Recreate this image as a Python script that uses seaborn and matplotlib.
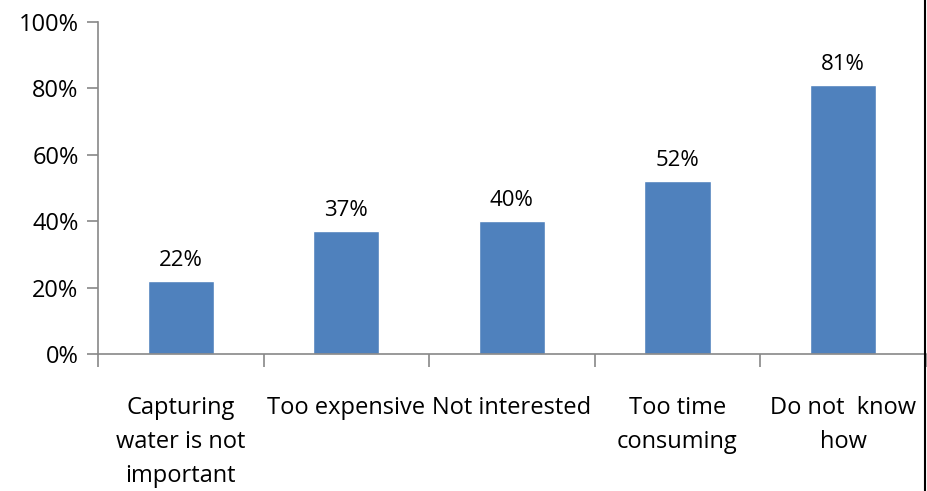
import matplotlib
matplotlib.use("Agg")
import matplotlib.pyplot as plt
import seaborn as sns
import pandas as pd
from matplotlib.ticker import FixedLocator, PercentFormatter
from matplotlib.lines import Line2D

# dados
categorias = ["Capturing\nwater is not\nimportant", "Too expensive", "Not interested",
              "Too time\nconsuming", "Do not  know\nhow"]
valores = [22, 37, 40, 52, 81]

df = pd.DataFrame({"categoria": categorias, "valor": valores})

sns.set_style("white")
plt.rcParams["font.family"] = ["Open Sans", "DejaVu Sans"]
plt.rcParams["text.color"] = "black"

fig = plt.figure(figsize=(9.28, 4.91), dpi=100)
ax = fig.add_axes([0.1056, 0.279, 0.892, 0.676])

sns.barplot(data=df, x="categoria", y="valor", color="#4F81BD", width=0.40,
            saturation=1, ax=ax)

ax.set_ylim(0, 100)
ax.set_xlim(-0.5, len(categorias) - 0.5)
ax.set_yticks([0, 20, 40, 60, 80, 100])
ax.yaxis.set_major_formatter(PercentFormatter(decimals=0))
ax.set_xlabel("")
ax.set_ylabel("")

for s in ["top", "right"]:
    ax.spines[s].set_visible(False)
for s in ["left", "bottom"]:
    ax.spines[s].set_color("#888888")
    ax.spines[s].set_linewidth(1.2)

ax.tick_params(axis="y", left=True, direction="out", length=8, width=1.2,
               color="#888888", labelsize=17, pad=6, labelcolor="black")
ax.tick_params(axis="x", which="major", bottom=False, labelsize=17, pad=27,
               labelcolor="black")
ax.xaxis.set_minor_locator(FixedLocator([i - 0.5 for i in range(len(categorias) + 1)]))
ax.tick_params(axis="x", which="minor", bottom=True, direction="out", length=9,
               width=1.2, color="#888888")
for lbl in ax.get_xticklabels():
    lbl.set_linespacing(1.55)

for i, v in enumerate(valores):
    ax.text(i, v + 3, f"{v}%", ha="center", va="bottom", fontsize=16, color="black")

# borda preta a direita
fig.add_artist(Line2D([0.997, 0.997], [0, 1], color="black", lw=1.5,
                      transform=fig.transFigure))

fig.savefig("out.png", dpi=100)
